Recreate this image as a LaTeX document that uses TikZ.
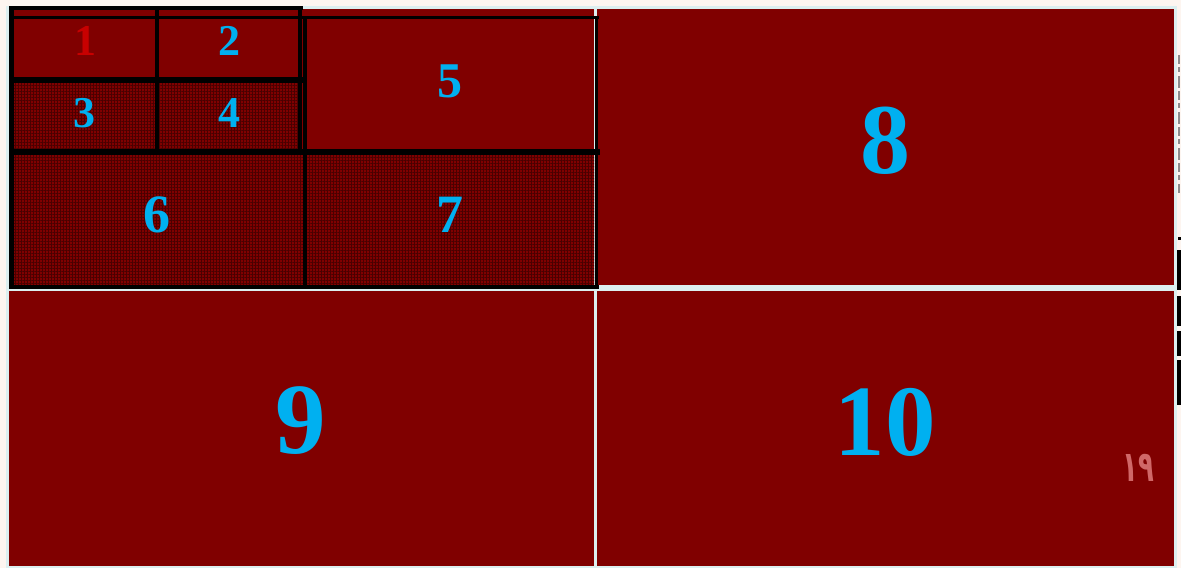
\documentclass[tikz,border=0pt]{standalone}
\usepackage{fontspec}
\setmainfont{Liberation Serif}
\newfontfamily\arabicfont[Script=Arabic]{DejaVu Sans}
\usetikzlibrary{patterns.meta}
\definecolor{pagebg}{HTML}{FDF5F0}
\definecolor{gapc}{HTML}{DCEFF0}
\definecolor{maroonc}{HTML}{800000}
\definecolor{numblue}{HTML}{00B0F0}
\definecolor{numred}{HTML}{C80000}
\definecolor{pinkish}{HTML}{D06868}
\definecolor{texc}{HTML}{4A0000}
\tikzset{
  panel/.style={fill=maroonc, draw=none},
  texh/.style={pattern={Lines[angle=0,distance=3pt,line width=0.8pt]}, pattern color=texc},
  texv/.style={pattern={Lines[angle=90,distance=3pt,line width=0.8pt]}, pattern color=texc},
  bline/.style={draw=black, line width=#1, line cap=rect},
  bline/.default=4pt,
  num/.style={text=numblue, font=\bfseries\fontsize{#1}{#1}\selectfont, inner sep=0pt},
  junk/.style={line width=3pt},
}
\begin{document}
\begin{tikzpicture}[x=1pt,y=-1pt]
\useasboundingbox (0,0) rectangle (1181,568);
\fill[pagebg] (0,0) rectangle (1181,568);
\fill[gapc] (6,6) rectangle (1177,568);
% red panels
\fill[panel] (9,9) rectangle (594,287);
\fill[panel] (597,9) rectangle (1174,285);
\fill[panel] (9,291) rectangle (594,566);
\fill[panel] (597,291) rectangle (1174,566);
% textured cells 3,4,6,7
\fill[texh] (12,80) rectangle (300,151);
\fill[texv] (12,80) rectangle (300,151);
\fill[texh] (12,152) rectangle (594,286);
\fill[texv] (12,152) rectangle (594,286);
% black frame lines
\coordinate (a1) at (11.5,8);
\coordinate (a2) at (301,8);
\coordinate (b1) at (11.5,17.5);
\coordinate (b2) at (597,17.5);
\coordinate (l1) at (11.5,8);
\coordinate (l2) at (11.5,287);
\coordinate (v12a) at (157,8);
\coordinate (v12b) at (157,151);
\coordinate (v30a) at (300,8);
\coordinate (v30b) at (300,151);
\coordinate (v35a) at (305,17.5);
\coordinate (v35b) at (305,287);
\coordinate (h80a) at (11.5,80);
\coordinate (h80b) at (300,80);
\coordinate (h152a) at (11.5,152);
\coordinate (h152b) at (597,152);
\coordinate (r1) at (596.5,17.5);
\coordinate (r2) at (596.5,287);
\coordinate (bt1) at (11.5,286.5);
\coordinate (bt2) at (597,286.5);
\draw[bline=3.3pt] (a1) -- (a2);
\draw[bline=3.6pt] (b1) -- (b2);
\draw[bline=4.2pt] (l1) -- (l2);
\draw[bline=4pt] (v12a) -- (v12b);
\draw[bline=3.6pt] (v30a) -- (v30b);
\draw[bline=3.6pt] (v35a) -- (v35b);
\draw[bline=5.2pt] (h80a) -- (h80b);
\draw[bline=5.8pt] (h152a) -- (h152b);
\draw[bline=3.6pt] (r1) -- (r2);
\draw[bline=4pt] (bt1) -- (bt2);
% numbers
\node[num=44, text=numred] (n1) at (85,41) {1};
\node[num=44] (n2) at (229,41) {2};
\node[num=44] (n3) at (84,113) {3};
\node[num=44] (n4) at (229,113) {4};
\node[num=50] (n5) at (450,81) {5};
\node[num=54] (n6) at (157,215) {6};
\node[num=54] (n7) at (450,215) {7};
\node[num=100] (n8) at (885,141) {8};
\node[num=101] (n9) at (301,421) {9};
\node[num=101] (n10) at (885,422) {10};
\node[text=pinkish, inner sep=0pt, font=\arabicfont\bfseries\fontsize{38}{38}\selectfont] (pg) at (1138,468) {\scalebox{0.68}[1.12]{١٩}};
% scan remnants at right margin
\coordinate (g1) at (1178.5,55);
\coordinate (g2) at (1178.5,193);
\coordinate (k1) at (1179,237);
\coordinate (k2) at (1179,240);
\coordinate (k3) at (1179,250);
\coordinate (k4) at (1179,407);
\draw[junk, black!45, line width=2pt, dash pattern=on 9pt off 3pt on 5pt off 4pt on 12pt off 3pt] (g1) -- (g2);
\draw[junk, black] (k1) -- (k2);
\draw[junk, black, line width=4pt, dash pattern=on 40pt off 6pt on 30pt off 5pt on 25pt off 4pt on 45pt off 3pt] (k3) -- (k4);
\end{tikzpicture}
\end{document}
